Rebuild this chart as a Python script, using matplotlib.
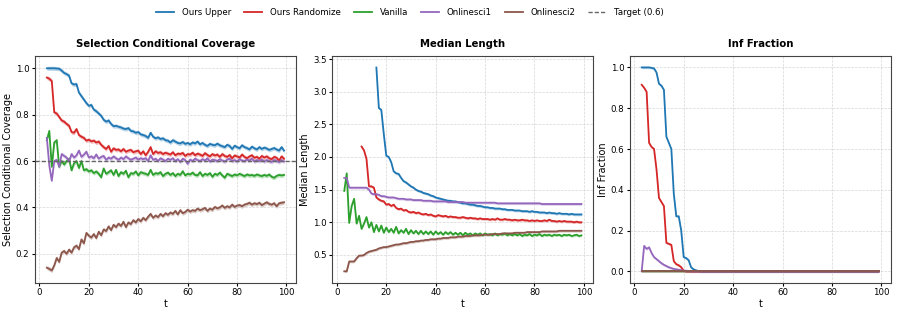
import numpy as np
import matplotlib
matplotlib.use("Agg")
import matplotlib.pyplot as plt

# time steps
t = np.arange(3, 100)
nan = np.nan

# ---- selection conditional coverage ----
cov_upper = [1.000, 1.000, 1.000, 1.000, 0.999, 0.998, 0.990, 0.980, 0.975, 0.968,
             0.935, 0.930, 0.932, 0.895, 0.880, 0.865, 0.850, 0.838, 0.842, 0.822,
             0.815, 0.805, 0.795, 0.778, 0.770, 0.775, 0.760, 0.750, 0.752, 0.748,
             0.745, 0.740, 0.738, 0.742, 0.730, 0.728, 0.722, 0.725, 0.715, 0.712,
             0.708, 0.700, 0.722, 0.705, 0.698, 0.702, 0.695, 0.698, 0.690, 0.688,
             0.680, 0.690, 0.684, 0.678, 0.676, 0.682, 0.674, 0.678, 0.672, 0.680,
             0.676, 0.684, 0.672, 0.678, 0.670, 0.665, 0.674, 0.670, 0.668, 0.675,
             0.668, 0.664, 0.660, 0.670, 0.665, 0.652, 0.666, 0.660, 0.655, 0.668,
             0.660, 0.656, 0.650, 0.662, 0.655, 0.650, 0.660, 0.652, 0.658, 0.654,
             0.648, 0.652, 0.656, 0.650, 0.645, 0.660, 0.645]
cov_rand = [0.960, 0.955, 0.945, 0.810, 0.805, 0.790, 0.775, 0.770, 0.760, 0.752,
            0.725, 0.722, 0.738, 0.712, 0.705, 0.700, 0.688, 0.692, 0.685, 0.688,
            0.680, 0.684, 0.670, 0.660, 0.652, 0.665, 0.640, 0.655, 0.648, 0.650,
            0.642, 0.652, 0.640, 0.645, 0.648, 0.638, 0.642, 0.645, 0.630, 0.642,
            0.625, 0.640, 0.660, 0.630, 0.642, 0.635, 0.638, 0.630, 0.636, 0.632,
            0.628, 0.638, 0.625, 0.632, 0.630, 0.635, 0.622, 0.630, 0.628, 0.636,
            0.625, 0.632, 0.628, 0.622, 0.634, 0.626, 0.620, 0.630, 0.624, 0.628,
            0.618, 0.630, 0.622, 0.618, 0.626, 0.612, 0.624, 0.620, 0.615, 0.628,
            0.618, 0.612, 0.620, 0.625, 0.614, 0.618, 0.610, 0.622, 0.615, 0.620,
            0.612, 0.608, 0.618, 0.614, 0.602, 0.620, 0.610]
cov_vanilla = [0.690, 0.730, 0.575, 0.680, 0.690, 0.575, 0.600, 0.585, 0.600, 0.610,
               0.560, 0.590, 0.600, 0.570, 0.600, 0.560, 0.565, 0.555, 0.560, 0.548,
               0.555, 0.545, 0.530, 0.568, 0.545, 0.552, 0.560, 0.540, 0.562, 0.535,
               0.552, 0.545, 0.558, 0.530, 0.548, 0.545, 0.555, 0.538, 0.552, 0.548,
               0.545, 0.540, 0.562, 0.540, 0.548, 0.545, 0.552, 0.535, 0.545, 0.550,
               0.540, 0.548, 0.535, 0.545, 0.540, 0.556, 0.538, 0.545, 0.542, 0.550,
               0.540, 0.538, 0.552, 0.535, 0.545, 0.540, 0.548, 0.532, 0.545, 0.540,
               0.550, 0.538, 0.528, 0.545, 0.540, 0.535, 0.542, 0.538, 0.545, 0.540,
               0.535, 0.542, 0.538, 0.540, 0.536, 0.542, 0.538, 0.535, 0.540, 0.536,
               0.542, 0.532, 0.528, 0.536, 0.540, 0.538, 0.540]
cov_osci1 = [0.700, 0.580, 0.515, 0.600, 0.605, 0.575, 0.630, 0.622, 0.615, 0.598,
             0.630, 0.615, 0.625, 0.645, 0.618, 0.628, 0.640, 0.615, 0.620, 0.612,
             0.628, 0.610, 0.618, 0.622, 0.605, 0.615, 0.610, 0.620, 0.612, 0.605,
             0.615, 0.608, 0.620, 0.612, 0.605, 0.610, 0.615, 0.606, 0.612, 0.608,
             0.612, 0.600, 0.625, 0.605, 0.610, 0.600, 0.612, 0.606, 0.600, 0.610,
             0.605, 0.612, 0.600, 0.608, 0.596, 0.610, 0.604, 0.588, 0.606, 0.600,
             0.610, 0.604, 0.600, 0.608, 0.602, 0.612, 0.598, 0.606, 0.604, 0.600,
             0.608, 0.602, 0.598, 0.606, 0.610, 0.600, 0.604, 0.598, 0.608, 0.602,
             0.600, 0.606, 0.602, 0.610, 0.598, 0.604, 0.600, 0.606, 0.598, 0.604,
             0.600, 0.596, 0.604, 0.600, 0.596, 0.604, 0.598]
cov_osci2 = [0.140, 0.135, 0.128, 0.150, 0.182, 0.165, 0.205, 0.212, 0.200, 0.218,
             0.205, 0.228, 0.235, 0.220, 0.262, 0.245, 0.290, 0.278, 0.270, 0.285,
             0.268, 0.295, 0.280, 0.305, 0.298, 0.318, 0.302, 0.325, 0.315, 0.330,
             0.320, 0.338, 0.315, 0.335, 0.328, 0.345, 0.335, 0.350, 0.340, 0.355,
             0.345, 0.360, 0.372, 0.355, 0.365, 0.358, 0.372, 0.362, 0.375, 0.368,
             0.378, 0.372, 0.385, 0.370, 0.388, 0.375, 0.380, 0.390, 0.382, 0.388,
             0.385, 0.395, 0.388, 0.392, 0.398, 0.385, 0.395, 0.390, 0.402, 0.396,
             0.400, 0.408, 0.398, 0.405, 0.400, 0.412, 0.402, 0.408, 0.410, 0.405,
             0.412, 0.415, 0.420, 0.412, 0.418, 0.414, 0.420, 0.410, 0.416, 0.422,
             0.415, 0.412, 0.418, 0.405, 0.418, 0.420, 0.422]

# ---- median length (nan where interval is infinite) ----
len_upper = [nan, nan, nan, nan, nan, nan, nan, nan, nan, nan,
             nan, nan, nan,
             3.37, 2.75, 2.72, 2.35, 2.02, 2.00, 1.92, 1.78, 1.75, 1.74,
             1.68, 1.63, 1.61, 1.58, 1.55, 1.53, 1.50, 1.48, 1.47, 1.45,
             1.44, 1.43, 1.41, 1.40, 1.38, 1.37, 1.36, 1.35, 1.34, 1.33,
             1.33, 1.32, 1.32, 1.31, 1.30, 1.29, 1.29, 1.28, 1.27, 1.27,
             1.26, 1.25, 1.25, 1.24, 1.23, 1.23, 1.22, 1.22, 1.21, 1.21,
             1.21, 1.20, 1.20, 1.19, 1.19, 1.19, 1.18, 1.18, 1.18, 1.17,
             1.17, 1.17, 1.16, 1.17, 1.16, 1.16, 1.15, 1.15, 1.15, 1.14,
             1.15, 1.14, 1.14, 1.13, 1.14, 1.13, 1.13, 1.13, 1.12, 1.13,
             1.12, 1.12, 1.12, 1.12]
len_rand = [nan, nan, nan, nan, nan, nan, nan,
            2.16, 2.10, 1.97, 1.55, 1.55, 1.53, 1.38, 1.35, 1.33, 1.32,
            1.27, 1.28, 1.25, 1.27, 1.22, 1.20, 1.21, 1.18, 1.19, 1.16,
            1.15, 1.16, 1.14, 1.15, 1.13, 1.12, 1.13, 1.11, 1.12, 1.10,
            1.09, 1.11, 1.10, 1.09, 1.10, 1.08, 1.09, 1.08, 1.08, 1.07,
            1.07, 1.08, 1.07, 1.06, 1.07, 1.06, 1.06, 1.05, 1.06, 1.05,
            1.05, 1.05, 1.04, 1.05, 1.04, 1.06, 1.04, 1.04, 1.05, 1.04,
            1.04, 1.03, 1.04, 1.03, 1.03, 1.04, 1.03, 1.03, 1.02, 1.03,
            1.02, 1.03, 1.02, 1.02, 1.03, 1.02, 1.04, 1.02, 1.02, 1.01,
            1.02, 1.01, 1.02, 1.01, 1.01, 1.01, 1.00, 1.01, 1.00, 1.00]
len_vanilla = [1.48, 1.75, 0.99, 1.25, 1.36, 0.98, 1.10, 0.90, 0.98, 1.08,
               0.92, 1.00, 0.85, 0.96, 0.86, 0.95, 0.84, 0.92, 0.85, 0.90,
               0.84, 0.93, 0.83, 0.88, 0.84, 0.90, 0.82, 0.88, 0.83, 0.87,
               0.82, 0.87, 0.82, 0.86, 0.82, 0.86, 0.81, 0.86, 0.82, 0.85,
               0.81, 0.85, 0.82, 0.85, 0.81, 0.84, 0.81, 0.84, 0.80, 0.84,
               0.81, 0.83, 0.80, 0.83, 0.81, 0.83, 0.80, 0.83, 0.81, 0.82,
               0.80, 0.83, 0.80, 0.82, 0.81, 0.83, 0.80, 0.82, 0.80, 0.82,
               0.80, 0.82, 0.79, 0.81, 0.80, 0.82, 0.79, 0.81, 0.80, 0.82,
               0.79, 0.81, 0.80, 0.81, 0.79, 0.81, 0.80, 0.81, 0.79, 0.81,
               0.80, 0.81, 0.79, 0.80, 0.81, 0.79, 0.80]
len_osci1 = [1.68, 1.68, 1.53, 1.53, 1.53, 1.53, 1.53, 1.53, 1.53, 1.53,
             1.50, 1.44, 1.43, 1.43, 1.42, 1.40, 1.40, 1.39, 1.38, 1.38,
             1.38, 1.37, 1.36, 1.36, 1.36, 1.35, 1.35, 1.35, 1.34, 1.34,
             1.34, 1.34, 1.33, 1.33, 1.33, 1.33, 1.32, 1.32, 1.32, 1.32,
             1.32, 1.32, 1.31, 1.31, 1.31, 1.31, 1.31, 1.31, 1.31, 1.30,
             1.30, 1.30, 1.30, 1.30, 1.30, 1.30, 1.30, 1.30, 1.30, 1.30,
             1.30, 1.30, 1.29, 1.29, 1.29, 1.29, 1.29, 1.29, 1.29, 1.29,
             1.29, 1.29, 1.29, 1.29, 1.29, 1.29, 1.29, 1.29, 1.29, 1.29,
             1.28, 1.28, 1.28, 1.28, 1.28, 1.28, 1.28, 1.28, 1.28, 1.28,
             1.28, 1.28, 1.28, 1.28, 1.28, 1.28, 1.28]
len_osci2 = [0.25, 0.25, 0.40, 0.40, 0.40, 0.45, 0.49, 0.49, 0.50, 0.53,
             0.55, 0.56, 0.57, 0.58, 0.60, 0.61, 0.62, 0.62, 0.63, 0.64,
             0.65, 0.66, 0.66, 0.67, 0.68, 0.68, 0.69, 0.70, 0.70, 0.71,
             0.71, 0.72, 0.72, 0.73, 0.73, 0.74, 0.74, 0.74, 0.75, 0.75,
             0.76, 0.76, 0.76, 0.77, 0.77, 0.77, 0.78, 0.78, 0.78, 0.79,
             0.79, 0.79, 0.80, 0.80, 0.80, 0.80, 0.81, 0.81, 0.81, 0.81,
             0.82, 0.82, 0.82, 0.82, 0.83, 0.83, 0.83, 0.83, 0.83, 0.84,
             0.84, 0.84, 0.84, 0.84, 0.85, 0.85, 0.85, 0.85, 0.85, 0.85,
             0.86, 0.86, 0.86, 0.86, 0.86, 0.86, 0.86, 0.87, 0.87, 0.87,
             0.87, 0.87, 0.87, 0.87, 0.87, 0.87, 0.87]

# ---- fraction of infinite intervals ----
inf_upper = [1.000, 1.000, 1.000, 1.000, 0.998, 0.995, 0.975, 0.920, 0.910, 0.890,
             0.660, 0.630, 0.600, 0.380, 0.270, 0.270, 0.200, 0.070, 0.065, 0.055,
             0.020, 0.010, 0.005, 0.002, 0, 0, 0, 0, 0, 0,
             0, 0, 0, 0, 0, 0, 0, 0, 0, 0,
             0, 0, 0, 0, 0, 0, 0, 0, 0, 0,
             0, 0, 0, 0, 0, 0, 0, 0, 0, 0,
             0, 0, 0, 0, 0, 0, 0, 0, 0, 0,
             0, 0, 0, 0, 0, 0, 0, 0, 0, 0,
             0, 0, 0, 0, 0, 0, 0, 0, 0, 0,
             0, 0, 0, 0, 0, 0, 0]
inf_rand = [0.915, 0.900, 0.880, 0.630, 0.610, 0.600, 0.500, 0.360, 0.340, 0.320,
            0.140, 0.135, 0.130, 0.050, 0.035, 0.030, 0.020, 0.003, 0, 0,
            0, 0, 0, 0, 0, 0, 0, 0, 0, 0,
            0, 0, 0, 0, 0, 0, 0, 0, 0, 0,
            0, 0, 0, 0, 0, 0, 0, 0, 0, 0,
            0, 0, 0, 0, 0, 0, 0, 0, 0, 0,
            0, 0, 0, 0, 0, 0, 0, 0, 0, 0,
            0, 0, 0, 0, 0, 0, 0, 0, 0, 0,
            0, 0, 0, 0, 0, 0, 0, 0, 0, 0,
            0, 0, 0, 0, 0, 0, 0]
inf_vanilla = [0, 0, 0, 0, 0, 0, 0, 0, 0, 0,
               0, 0, 0, 0, 0, 0, 0, 0, 0, 0,
               0, 0, 0, 0, 0, 0, 0, 0, 0, 0,
               0, 0, 0, 0, 0, 0, 0, 0, 0, 0,
               0, 0, 0, 0, 0, 0, 0, 0, 0, 0,
               0, 0, 0, 0, 0, 0, 0, 0, 0, 0,
               0, 0, 0, 0, 0, 0, 0, 0, 0, 0,
               0, 0, 0, 0, 0, 0, 0, 0, 0, 0,
               0, 0, 0, 0, 0, 0, 0, 0, 0, 0,
               0, 0, 0, 0, 0, 0, 0]
inf_osci1 = [0.000, 0.125, 0.110, 0.118, 0.090, 0.070, 0.060, 0.050, 0.040, 0.032,
             0.026, 0.020, 0.016, 0.012, 0.010, 0.008, 0.006, 0.004, 0.003, 0.002,
             0, 0, 0, 0, 0, 0, 0, 0, 0, 0,
             0, 0, 0, 0, 0, 0, 0, 0, 0, 0,
             0, 0, 0, 0, 0, 0, 0, 0, 0, 0,
             0, 0, 0, 0, 0, 0, 0, 0, 0, 0,
             0, 0, 0, 0, 0, 0, 0, 0, 0, 0,
             0, 0, 0, 0, 0, 0, 0, 0, 0, 0,
             0, 0, 0, 0, 0, 0, 0, 0, 0, 0,
             0, 0, 0, 0, 0, 0, 0]
inf_osci2 = inf_vanilla

target = 0.6
names = ['Ours Upper', 'Ours Randomize', 'Vanilla', 'Onlinesci1', 'Onlinesci2']
colors = ['tab:blue', 'tab:red', 'tab:green', 'tab:purple', 'tab:brown']

panels = [
    ('Selection Conditional Coverage', 'Selection Conditional Coverage',
     [cov_upper, cov_rand, cov_vanilla, cov_osci1, cov_osci2], 0.009),
    ('Median Length', 'Median Length',
     [len_upper, len_rand, len_vanilla, len_osci1, len_osci2], 0.02),
    ('Inf Fraction', 'Inf Fraction',
     [inf_upper, inf_rand, inf_vanilla, inf_osci1, inf_osci2], 0.006),
]

fig, axes = plt.subplots(1, 3, figsize=(8.97, 3.14), dpi=100)
fig.subplots_adjust(left=0.039, right=0.993, bottom=0.099, top=0.822, wspace=0.14)

for ax, (title, ylab, series, band) in zip(axes, panels):
    for y, name, c in zip(series, names, colors):
        y = np.array(y, dtype=float)
        ax.fill_between(t, y - band, y + band, color=c, alpha=0.3, lw=0)
        ax.plot(t, y, color=c, lw=1.3, label=name)
    if title.startswith('Selection'):
        ax.axhline(target, color='#666666', ls=(0, (3, 1.5)), lw=1.0, label='Target (0.6)')
    ax.set_title(title, fontsize=7.3, fontweight='bold', pad=6.5)
    ax.set_xlabel('t', fontsize=7, labelpad=1)
    ax.set_ylabel(ylab, fontsize=7, labelpad=2)
    ax.tick_params(labelsize=6.2, length=2.5, pad=1.5)
    ax.set_xticks([0, 20, 40, 60, 80, 100])
    ax.grid(True, ls='--', lw=0.5, color='#cccccc', alpha=0.8)
    for s in ax.spines.values():
        s.set_color('#444444')

handles, labels = axes[0].get_legend_handles_labels()
fig.legend(handles, labels, loc='upper center', bbox_to_anchor=(0.457, 1.0),
           ncol=6, frameon=False, fontsize=6.2, handlelength=2.1,
           handletextpad=0.9, columnspacing=1.5)

fig.savefig('out.png', dpi=100)
